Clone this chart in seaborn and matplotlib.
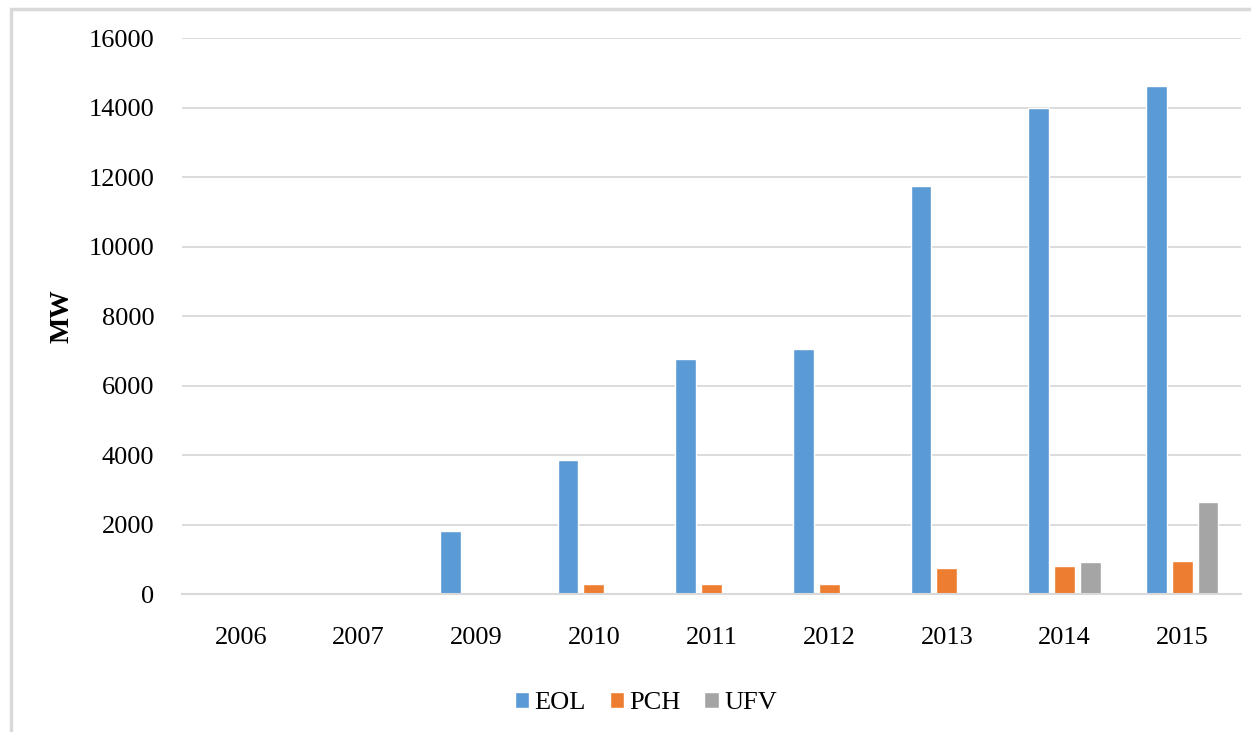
import pandas as pd
import matplotlib.pyplot as plt
import seaborn as sns
from matplotlib.patches import Rectangle

# Data
years = ["2006", "2007", "2009", "2010", "2011", "2012", "2013", "2014", "2015"]
eol = [0, 0, 1810, 3870, 6760, 7040, 11740, 14000, 14630]
pch = [0, 30, 50, 280, 280, 280, 760, 800, 960]
ufv = [0, 0, 0, 0, 0, 0, 0, 910, 2650]
series = ["EOL", "PCH", "UFV"]
colors = ["#5B9BD5", "#ED7D31", "#A5A5A5"]

df = pd.DataFrame({"Ano": years, "EOL": eol, "PCH": pch, "UFV": ufv})
df = df.melt(id_vars="Ano", var_name="Fonte", value_name="MW")

sns.set_style("white")
plt.rcParams["font.family"] = ["Liberation Serif", "DejaVu Serif"]
plt.rcParams["text.color"] = "black"
plt.rcParams["xtick.color"] = "black"
plt.rcParams["ytick.color"] = "black"
plt.rcParams["axes.labelcolor"] = "black"

fig = plt.figure(figsize=(12.51, 7.32), dpi=100)
ax = fig.add_axes([0.1455, 0.1885, 0.8465, 0.7595])

sns.barplot(data=df, x="Ano", y="MW", hue="Fonte", hue_order=series,
            palette=colors, width=0.66, gap=0.2, ax=ax, saturation=1)

ax.set_ylim(0, 16000)
ax.set_yticks(range(0, 16001, 2000))
ax.grid(axis="y", color="#D9D9D9", linewidth=1.3)
ax.set_axisbelow(True)
for s in ["top", "right", "left"]:
    ax.spines[s].set_visible(False)
ax.spines["bottom"].set_color("#D9D9D9")
ax.spines["bottom"].set_linewidth(1.5)
ax.tick_params(axis="both", length=0, labelsize=19)
ax.tick_params(axis="y", pad=20)
ax.tick_params(axis="x", pad=24)
ax.set_xlabel("")
ax.set_ylabel("MW", fontsize=20, fontweight="bold", labelpad=10)

leg = ax.legend(loc="upper center", bbox_to_anchor=(0.438, -0.133), ncol=3,
                frameon=False, fontsize=19, handlelength=0.55, handleheight=0.55,
                handletextpad=0.2, columnspacing=0.9)

# light border around the chart area
fig.patches.append(Rectangle((0.009, -0.01), 1.0, 0.998, transform=fig.transFigure,
                             fill=False, edgecolor="#D9D9D9", linewidth=2.5))

fig.savefig("out.png", dpi=100)
